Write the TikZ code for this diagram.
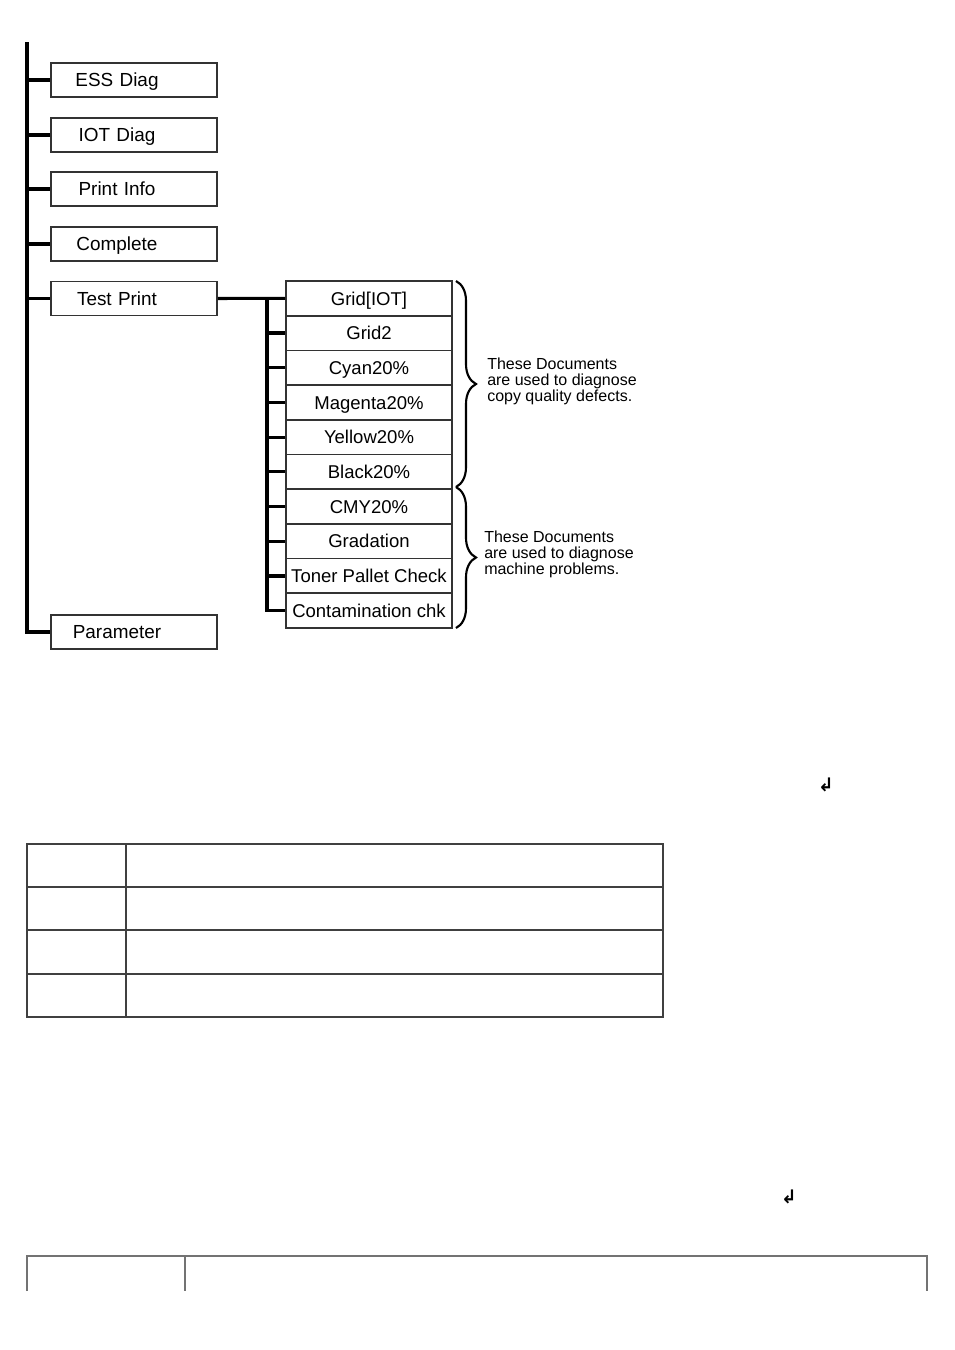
\documentclass[tikz,border=0pt]{standalone}
\usepackage{fontspec}
\setmainfont{Liberation Sans}
\newfontfamily\arrowfont{DejaVu Sans}
\usepackage{tikz}
\usetikzlibrary{decorations.pathreplacing}
\tikzset{
  box/.style={draw=black!80,fill=white,line width=1.2pt,minimum width=124.5pt,minimum height=25.5pt,inner sep=2pt,
    text width=118pt,text height=10pt,text depth=0pt,align=center,font=\fontsize{14.2pt}{16pt}\selectfont,
    execute at end node={\hspace*{25.5pt}}},
  boxr/.style={draw=black!80,fill=white,line width=1.2pt,minimum width=124.5pt,minimum height=26pt,inner sep=2pt,
    text height=10pt,text depth=0pt,align=center,font=\fontsize{13.9pt}{16pt}\selectfont},
  ln/.style={line width=2.4pt,color=black},
  brc/.style={decorate,decoration={brace,amplitude=15pt},line width=1.6pt},
  note/.style={anchor=west,align=left,inner sep=0pt,font=\fontsize{12pt}{12pt}\selectfont},
  tbl/.style={line width=1.6pt,color=black!75},
  tbll/.style={line width=1.6pt,color=black!55},
  ret/.style={inner sep=0pt,font=\arrowfont\bfseries\fontsize{14pt}{14pt}\selectfont},
}
\begin{document}
\begin{tikzpicture}[x=0.75pt,y=-0.75pt]
\useasboundingbox (0,0) rectangle (954,1350);
% menu boxes on the left
\node[box] (ess) at (134,80) {ESS Diag};
\node[box] (iot) at (134,135) {IOT Diag};
\node[box] (info) at (134,189) {Print Info};
\node[box] (comp) at (134,244) {Complete};
\node[box] (tp) at (134,298.4) {Test Print};
\node[box] (par) at (134,632) {Parameter};
\coordinate (top) at (27,42);
\draw[ln] (top) |- (par.west);
\foreach \n in {ess,iot,info,comp,tp} \draw[ln] (top |- \n.west) -- (\n.west);
% test print documents
\foreach \i/\t in {1/Grid[IOT],2/Grid2,3/Cyan20\%,4/Magenta20\%,5/Yellow20\%,6/Black20\%,7/CMY20\%,8/Gradation,9/Toner Pallet Check,10/Contamination chk}
  \node[boxr] (g\i) at (369,{281+34.7*(\i-0.5)}) {\t};
\coordinate (st) at (267,298.4);
\draw[ln] (tp.east) -- (g1.west);
\draw[ln] (st) |- (g10.west);
\foreach \i in {2,...,9} \draw[ln] (st |- g\i.west) -- (g\i.west);
% braces and notes
\coordinate (b0) at (456,281);
\coordinate (b1) at (456,487);
\coordinate (b2) at (456,628);
\draw[brc] (b0) -- (b1);
\draw[brc] (b1) -- (b2);
\node[note] (n1) at (487,381) {These Documents\\are used to diagnose\\copy quality defects.};
\node[note] (n2) at (484,554) {These Documents\\are used to diagnose\\machine problems.};
% return marks
\node[ret] (r1) at (826,785) {↲};
\node[ret] (r2) at (789,1197) {↲};
% tables
\draw[tbl] (27,844) rectangle (663,1017);
\draw[tbl] (126,844) -- (126,1017);
\foreach \y in {887,930,974} \draw[tbl] (27,\y) -- (663,\y);
\draw[tbll] (27,1291) -- (27,1256) -- (927,1256) -- (927,1291);
\draw[tbll] (185,1256) -- (185,1291);
\end{tikzpicture}
\end{document}
